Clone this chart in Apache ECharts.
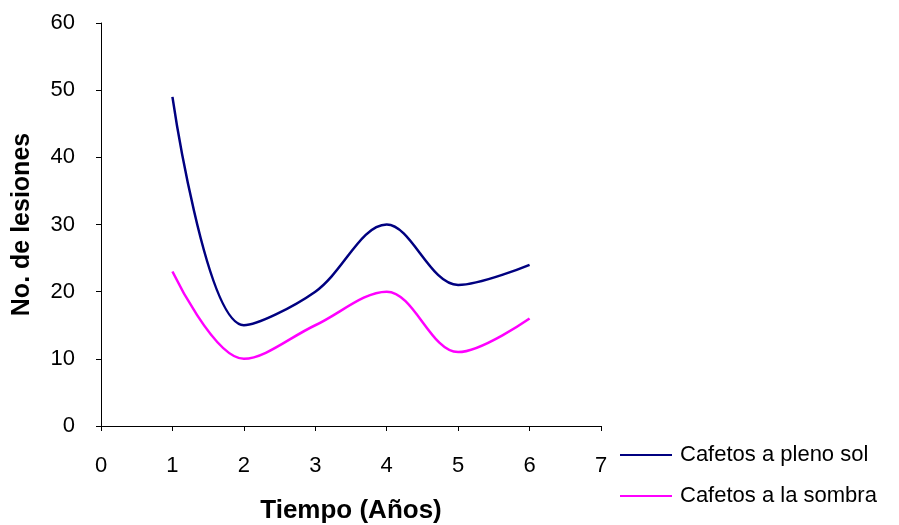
<!DOCTYPE html>
<html><head><meta charset="utf-8">
<script src="https://cdn.jsdelivr.net/npm/echarts@6/dist/echarts.min.js"></script>
<style>html,body{margin:0;padding:0;background:#fff}#c{width:899px;height:525px}</style>
</head><body><div id="c"></div>
<script>
const years = [1, 2, 3, 4, 5, 6];
const plenoSol = [49, 15, 20, 30, 21, 24];
const sombra = [23, 10, 15, 20, 11, 16];
const seriesNames = ['Cafetos a pleno sol', 'Cafetos a la sombra'];
const xTitle = 'Tiempo (Años)';
const yTitle = 'No. de lesiones';

const font = 'Arial, "Liberation Sans", sans-serif';
const chart = echarts.init(document.getElementById('c'), null, {renderer: 'canvas'});
chart.setOption({
  animation: false,
  backgroundColor: '#fff',
  grid: {left: 101, right: 298, top: 23, bottom: 99, containLabel: false, outerBoundsMode: 'none'},
  legend: {
    orient: 'vertical', left: 615, top: 439, itemGap: 19,
    icon: 'rect', itemWidth: 52, itemHeight: 2,
    textStyle: {fontFamily: font, fontSize: 22, color: '#000', padding: [0, 0, 0, 3]},
    data: seriesNames
  },
  xAxis: {
    type: 'value', min: 0, max: 7, interval: 1,
    name: xTitle, nameLocation: 'middle', nameGap: 72,
    nameTextStyle: {fontFamily: font, fontSize: 26, fontWeight: 'bold', color: '#000'},
    axisLine: {lineStyle: {color: '#000', width: 1}},
    axisTick: {show: true, length: 5, lineStyle: {color: '#000'}},
    axisLabel: {fontFamily: font, fontSize: 22, color: '#000', margin: 29},
    splitLine: {show: false}
  },
  yAxis: {
    type: 'value', min: 0, max: 60, interval: 10,
    name: yTitle, nameLocation: 'middle', nameGap: 66, nameRotate: 90,
    nameTextStyle: {fontFamily: font, fontSize: 25, fontWeight: 'bold', color: '#000'},
    axisLine: {show: true, lineStyle: {color: '#000', width: 1}},
    axisTick: {show: true, length: 5, lineStyle: {color: '#000'}},
    axisLabel: {fontFamily: font, fontSize: 22, color: '#000', margin: 26},
    splitLine: {show: false}
  },
  series: [
    {name: seriesNames[0], type: 'line', smooth: 0.35, showSymbol: false, symbol: 'none',
     data: years.map((x, i) => [x, plenoSol[i]]),
     lineStyle: {color: '#000080', width: 2.5}, itemStyle: {color: '#000080'}},
    {name: seriesNames[1], type: 'line', smooth: 0.35, showSymbol: false, symbol: 'none',
     data: years.map((x, i) => [x, sombra[i]]),
     lineStyle: {color: '#FF00FF', width: 2.5}, itemStyle: {color: '#FF00FF'}}
  ]
});
</script></body></html>
